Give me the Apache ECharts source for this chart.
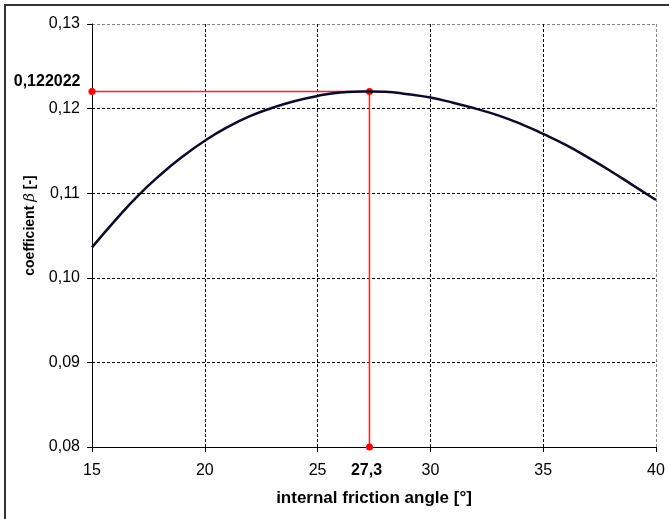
<!DOCTYPE html>
<html>
<head>
<meta charset="utf-8">
<script src="https://cdn.jsdelivr.net/npm/echarts@6/dist/echarts.min.js"></script>
<style>
    html, body { margin: 0; padding: 0; background: #fff; }
    #chart { width: 669px; height: 519px; }
</style>
</head>
<body>
<div id="chart"></div>
<script>
// curve: friction angle [deg] -> beta
const angles = [15, 16, 17, 18, 19, 20, 21, 22, 23, 24, 25, 26, 27, 27.3, 28, 29, 30, 31, 32, 33, 34, 35, 36, 37, 38, 39, 40];
const beta = [0.1036, 0.1067, 0.1096, 0.1121, 0.1143, 0.1162, 0.1178, 0.1191, 0.1201, 0.1209, 0.1215, 0.1219, 0.12201, 0.122022, 0.1220, 0.1217, 0.1213, 0.1207, 0.1200, 0.1192, 0.1182, 0.1170, 0.1157, 0.1142, 0.1126, 0.1109, 0.1092];

const peakAngle = 27.3;
const peakBeta = 0.122022;
const peakAngleLabel = "27,3";
const peakBetaLabel = "0,122022";

const xMin = 15, xMax = 40, xStep = 5;
const yMin = 0.08, yMax = 0.13, yStep = 0.01;

const font = "Liberation Sans, Arial, sans-serif";

const curve = angles.map((a, i) => [a, beta[i]]);

const chart = echarts.init(document.getElementById("chart"));

chart.setOption({
    animation: false,
    backgroundColor: "#fff",
    grid: { left: 92, right: 13, top: 24, bottom: 72 },

    graphic: [
        {
            type: "polyline",
            shape: { points: [[5, 530], [5, 5], [680, 5]] },
            style: { stroke: "#333", lineWidth: 2, fill: null }
        }
    ],

    xAxis: {
        type: "value",
        min: xMin,
        max: xMax,
        interval: xStep,
        name: "internal friction angle [°]",
        nameLocation: "middle",
        nameGap: 43,
        nameTextStyle: { fontFamily: font, fontSize: 17, fontWeight: "bold", color: "#000" },
        axisLine: { show: true, lineStyle: { color: "#000", width: 1 } },
        axisTick: { show: true, length: 5, lineStyle: { color: "#000" } },
        axisLabel: { fontFamily: font, fontSize: 16, color: "#000", margin: 16 },
        splitLine: {
            show: true,
            lineStyle: { type: [3, 2], color: ["#000", "#000", "#000", "#000", "#000", "#888"], width: 1 }
        }
    },

    yAxis: {
        type: "value",
        min: yMin,
        max: yMax,
        interval: yStep,
        name: "{b|coefficient }{g|β}{b| [-]}",
        nameLocation: "middle",
        nameGap: 54,
        nameTextStyle: {
            padding: [0, 0, 0, 20],
            rich: {
                b: { fontFamily: font, fontSize: 14, fontWeight: "bold", color: "#000" },
                g: { fontFamily: "DejaVu Serif, serif", fontSize: 15, fontStyle: "italic", color: "#000" }
            }
        },
        axisLine: { show: true, lineStyle: { color: "#000", width: 1 } },
        axisTick: { show: true, length: 5, lineStyle: { color: "#000" } },
        axisLabel: {
            fontFamily: font,
            fontSize: 16,
            color: "#000",
            margin: 12,
            formatter: v => v.toFixed(2).replace(".", ",")
        },
        splitLine: {
            show: true,
            lineStyle: { type: [3, 2], color: ["#000", "#000", "#000", "#000", "#000", "#888"], width: 1 }
        }
    },

    series: [
        {
            type: "line",
            color: "#ff2020",
            data: [
                {
                    value: [xMin, peakBeta],
                    label: {
                        show: true,
                        position: "left",
                        distance: 8,
                        offset: [0, -10],
                        formatter: peakBetaLabel
                    }
                },
                { value: [peakAngle, peakBeta] },
                {
                    value: [peakAngle, yMin],
                    label: {
                        show: true,
                        position: "bottom",
                        distance: 12,
                        offset: [-3, 0],
                        formatter: peakAngleLabel
                    }
                }
            ],
            symbol: "circle",
            symbolSize: 7,
            showSymbol: true,
            clip: false,
            z: 3,
            itemStyle: { color: "#ff0000" },
            lineStyle: { color: "#ff2020", width: 1.5, opacity: 1 },
            emphasis: { disabled: true },
            label: { fontFamily: font, fontSize: 16, fontWeight: "bold", color: "#000" }
        },
        {
            type: "line",
            data: curve,
            smooth: 0.5,
            showSymbol: false,
            z: 4,
            lineStyle: { color: "#0a0a2a", width: 2.5 }
        }
    ]
});
</script>
</body>
</html>
